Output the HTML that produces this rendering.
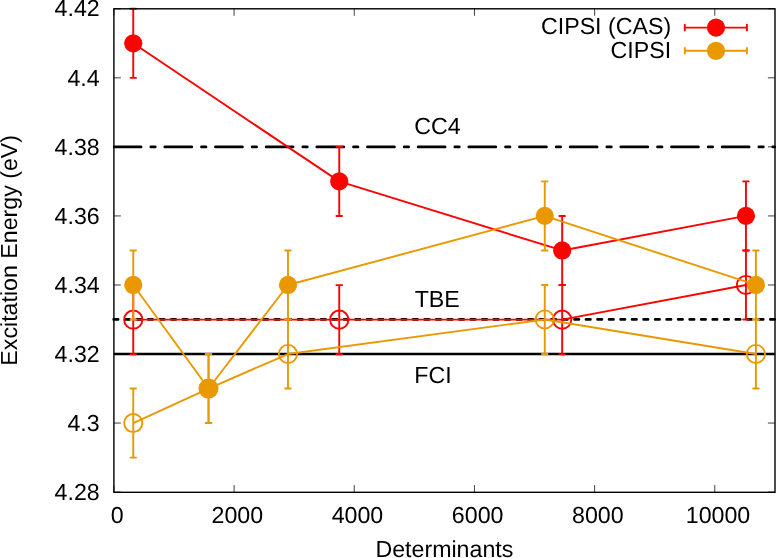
<!DOCTYPE html>
<html><head><meta charset="utf-8"><title>plot</title>
<style>html,body{margin:0;padding:0;background:#fff;overflow:hidden}svg{display:block}text{font-family:"Liberation Sans",sans-serif;fill:#000;text-rendering:geometricPrecision}svg{will-change:transform;transform:translateZ(0)}</style>
</head><body>
<svg width="776" height="558" viewBox="0 0 776 558">
<rect x="0" y="0" width="776" height="558" fill="#ffffff"/>
<g stroke="#000" stroke-width="0.75" fill="none">
<path d="M113.90 492.10h7M774.90 492.10h-7"/>
<path d="M113.90 423.06h7M774.90 423.06h-7"/>
<path d="M113.90 354.01h7M774.90 354.01h-7"/>
<path d="M113.90 284.97h7M774.90 284.97h-7"/>
<path d="M113.90 215.93h7M774.90 215.93h-7"/>
<path d="M113.90 146.89h7M774.90 146.89h-7"/>
<path d="M113.90 77.84h7M774.90 77.84h-7"/>
<path d="M113.90 8.80h7M774.90 8.80h-7"/>
<path d="M113.90 492.10v-7M113.90 8.80v7"/>
<path d="M234.08 492.10v-7M234.08 8.80v7"/>
<path d="M354.26 492.10v-7M354.26 8.80v7"/>
<path d="M474.45 492.10v-7M474.45 8.80v7"/>
<path d="M594.63 492.10v-7M594.63 8.80v7"/>
<path d="M714.81 492.10v-7M714.81 8.80v7"/>
</g>
<text transform="translate(99.70,500.00)" font-size="23.2" text-anchor="end">4.28</text>
<text transform="translate(99.70,431.00)" font-size="23.2" text-anchor="end">4.3</text>
<text transform="translate(99.70,362.00)" font-size="23.2" text-anchor="end">4.32</text>
<text transform="translate(99.70,293.00)" font-size="23.2" text-anchor="end">4.34</text>
<text transform="translate(99.70,224.00)" font-size="23.2" text-anchor="end">4.36</text>
<text transform="translate(99.70,155.00)" font-size="23.2" text-anchor="end">4.38</text>
<text transform="translate(99.70,86.00)" font-size="23.2" text-anchor="end">4.4</text>
<text transform="translate(99.70,16.00)" font-size="23.2" text-anchor="end">4.42</text>
<text transform="translate(117.10,523.00)" font-size="23.2" text-anchor="middle">0</text>
<text transform="translate(237.28,523.00)" font-size="23.2" text-anchor="middle">2000</text>
<text transform="translate(357.46,523.00)" font-size="23.2" text-anchor="middle">4000</text>
<text transform="translate(477.65,523.00)" font-size="23.2" text-anchor="middle">6000</text>
<text transform="translate(597.83,523.00)" font-size="23.2" text-anchor="middle">8000</text>
<text transform="translate(718.01,523.00)" font-size="23.2" text-anchor="middle">10000</text>
<text transform="translate(444.40,557.00)" font-size="23.2" text-anchor="middle">Determinants</text>
<text transform="translate(16.80,250.30) rotate(-90)" font-size="23.2" text-anchor="middle">Excitation Energy (eV)</text>
<path d="M114.10 146.89H774.90" stroke="#000" stroke-width="2.7" stroke-linecap="round" stroke-dasharray="27 9.7 4.5 9.47" fill="none"/>
<path d="M113.70 319.44H774.90" stroke="#000" stroke-width="2.7" stroke-linecap="round" stroke-dasharray="4.4 7.12" fill="none"/>
<path d="M113.90 354.01H774.90" stroke="#000" stroke-width="2.7" fill="none"/>
<text transform="translate(414.30,134.00)" font-size="23.2" text-anchor="start">CC4</text>
<text transform="translate(414.70,307.00)" font-size="23.2" text-anchor="start">TBE</text>
<text transform="translate(414.30,383.00)" font-size="23.2" text-anchor="start">FCI</text>
<path d="M133.25 8.80V77.84M130.45 8.80h5.6M130.45 77.84h5.6M339.24 146.89V215.93M336.44 146.89h5.6M336.44 215.93h5.6M562.18 215.93V284.97M559.38 215.93h5.6M559.38 284.97h5.6M745.94 181.41V250.45M743.14 181.41h5.6M743.14 250.45h5.6" stroke="#fb0300" stroke-width="1.9" stroke-linecap="round" fill="none"/>
<path d="M133.25 43.32 L339.24 181.41 L562.18 250.45 L745.94 215.93" stroke="#fb0300" stroke-width="1.9" fill="none" stroke-linejoin="round"/>
<circle cx="133.25" cy="43.32" r="9.1" fill="#fb0300"/>
<circle cx="339.24" cy="181.41" r="9.1" fill="#fb0300"/>
<circle cx="562.18" cy="250.45" r="9.1" fill="#fb0300"/>
<circle cx="745.94" cy="215.93" r="9.1" fill="#fb0300"/>
<path d="M133.25 285.14V354.19M130.45 285.14h5.6M130.45 354.19h5.6M339.24 285.14V354.19M336.44 285.14h5.6M336.44 354.19h5.6M562.18 285.14V354.19M559.38 285.14h5.6M559.38 354.19h5.6M745.94 250.45V319.49M743.14 250.45h5.6M743.14 319.49h5.6" stroke="#fb0300" stroke-width="1.9" stroke-linecap="round" fill="none"/>
<path d="M133.25 319.67 L339.24 319.67 L562.18 319.67 L745.94 284.97" stroke="#fb0300" stroke-width="1.9" fill="none" stroke-linejoin="round"/>
<circle cx="133.25" cy="319.67" r="9.1" fill="none" stroke="#fb0300" stroke-width="1.9"/>
<circle cx="339.24" cy="319.67" r="9.1" fill="none" stroke="#fb0300" stroke-width="1.9"/>
<circle cx="562.18" cy="319.67" r="9.1" fill="none" stroke="#fb0300" stroke-width="1.9"/>
<circle cx="745.94" cy="284.97" r="9.1" fill="none" stroke="#fb0300" stroke-width="1.9"/>
<path d="M133.25 250.45V319.49M130.45 250.45h5.6M130.45 319.49h5.6M208.54 354.01V423.06M205.74 354.01h5.6M205.74 423.06h5.6M287.98 250.45V319.49M285.18 250.45h5.6M285.18 319.49h5.6M544.75 181.41V250.45M541.95 181.41h5.6M541.95 250.45h5.6M755.91 250.45V319.49M753.11 250.45h5.6M753.11 319.49h5.6" stroke="#ea9800" stroke-width="1.9" stroke-linecap="round" fill="none"/>
<path d="M133.25 284.97 L208.54 388.54 L287.98 284.97 L544.75 215.93 L755.91 284.97" stroke="#ea9800" stroke-width="1.9" fill="none" stroke-linejoin="round"/>
<circle cx="133.25" cy="284.97" r="9.1" fill="#ea9800"/>
<circle cx="208.54" cy="388.54" r="9.1" fill="#ea9800"/>
<circle cx="287.98" cy="284.97" r="9.1" fill="#ea9800"/>
<circle cx="544.75" cy="215.93" r="9.1" fill="#ea9800"/>
<circle cx="755.91" cy="284.97" r="9.1" fill="#ea9800"/>
<path d="M133.25 388.54V457.58M130.45 388.54h5.6M130.45 457.58h5.6M208.54 354.01V423.06M205.74 354.01h5.6M205.74 423.06h5.6M287.98 319.49V388.54M285.18 319.49h5.6M285.18 388.54h5.6M544.75 284.97V354.01M541.95 284.97h5.6M541.95 354.01h5.6M755.91 319.49V388.54M753.11 319.49h5.6M753.11 388.54h5.6" stroke="#ea9800" stroke-width="1.9" stroke-linecap="round" fill="none"/>
<path d="M133.25 423.06 L208.54 388.54 L287.98 354.01 L544.75 319.49 L755.91 354.01" stroke="#ea9800" stroke-width="1.9" fill="none" stroke-linejoin="round"/>
<circle cx="133.25" cy="423.06" r="9.1" fill="none" stroke="#ea9800" stroke-width="1.9"/>
<circle cx="208.54" cy="388.54" r="9.1" fill="none" stroke="#ea9800" stroke-width="1.9"/>
<circle cx="287.98" cy="354.01" r="9.1" fill="none" stroke="#ea9800" stroke-width="1.9"/>
<circle cx="544.75" cy="319.49" r="9.1" fill="none" stroke="#ea9800" stroke-width="1.9"/>
<circle cx="755.91" cy="354.01" r="9.1" fill="none" stroke="#ea9800" stroke-width="1.9"/>
<text transform="translate(671.10,34.00)" font-size="23.2" text-anchor="end">CIPSI (CAS)</text>
<path d="M684.8 27.6H746.9M684.8 24.80v5.6M746.9 24.80v5.6" stroke="#fb0300" stroke-width="1.9" stroke-linecap="round" fill="none"/>
<circle cx="716" cy="27.6" r="9.1" fill="#fb0300"/>
<text transform="translate(671.10,58.00)" font-size="23.2" text-anchor="end">CIPSI</text>
<path d="M684.8 50.8H746.9M684.8 48.00v5.6M746.9 48.00v5.6" stroke="#ea9800" stroke-width="1.9" stroke-linecap="round" fill="none"/>
<circle cx="716" cy="50.8" r="9.1" fill="#ea9800"/>
<rect x="113.90" y="8.80" width="661.10" height="483.50" fill="none" stroke="#000" stroke-width="1.4"/>
</svg>
</body></html>
